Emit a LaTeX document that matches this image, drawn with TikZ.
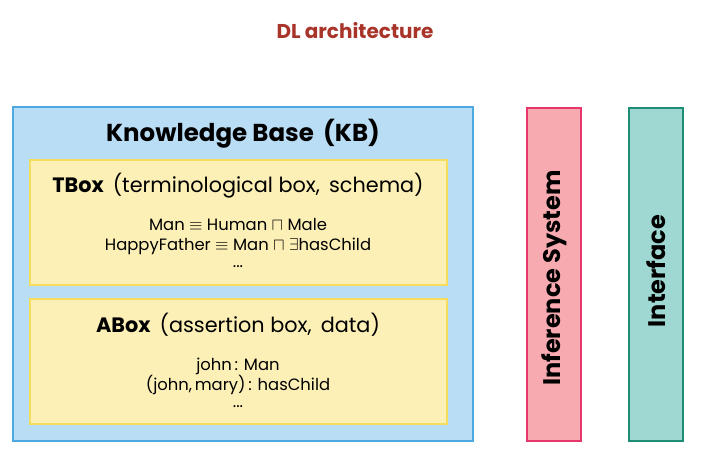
\documentclass[tikz,border=0pt]{standalone}
\usepackage{fontspec}
\setmainfont{Poppins}
\definecolor{titlered}{HTML}{A8342A}
\definecolor{kbfill}{HTML}{B9DDF5}
\definecolor{kbdraw}{HTML}{4DA9DF}
\definecolor{boxfill}{HTML}{FDF0B6}
\definecolor{boxdraw}{HTML}{F6DD5C}
\definecolor{inffill}{HTML}{F8AAB1}
\definecolor{infdraw}{HTML}{E5376C}
\definecolor{intfill}{HTML}{9FD8D3}
\definecolor{intdraw}{HTML}{1F8C74}
\tikzset{
  panel/.style={draw=#1, line width=1.6pt},
  txt/.style={inner sep=0pt, anchor=center},
}
\begin{document}
\begin{tikzpicture}[x=1pt,y=-1pt]
\useasboundingbox (0,0) rectangle (705,466);
\node[txt, text=titlered, font=\fontsize{20}{24}\selectfont\bfseries] (title) at (355,31) {DL architecture};
% KB
\path[panel=kbdraw, fill=kbfill] (13,107) rectangle (473,441);
\node[txt, font=\fontsize{24.5}{28}\selectfont\bfseries] (kb) at (243,134) {Knowledge Base\ \,(KB)};
% TBox
\path[panel=boxdraw, fill=boxfill] (30,160) rectangle (447,285);
\node[txt, font=\fontsize{20.8}{24}\selectfont] (tbox) at (238,186) {\textbf{TBox}\ \,(terminological box,\ \,schema)};
\node[txt, font=\fontsize{16.4}{20}\selectfont, align=center] (tax) at (238,243) {Man $\equiv$ Human $\sqcap$ Male\\HappyFather $\equiv$ Man $\sqcap$ $\exists$hasChild\\[-3pt]...};
% ABox
\path[panel=boxdraw, fill=boxfill] (30,299) rectangle (447,424);
\node[txt, font=\fontsize{20.8}{24}\selectfont] (abox) at (238,325) {\textbf{ABox}\ \,(assertion box,\ \,data)};
\node[txt, font=\fontsize{16.4}{20}\selectfont, align=center] (aax) at (238,383) {john\,: Man\\(john,\,mary)\,: hasChild\\[-3pt]...};
% Inference System
\node[panel=infdraw, fill=inffill, minimum width=54pt, minimum height=333pt, inner sep=0pt] (inf) at (554,274.5) {};
\node[txt, rotate=90, font=\fontsize{24}{28}\selectfont\bfseries] (inft) at (554,278) {Inference System};
% Interface
\node[panel=intdraw, fill=intfill, minimum width=54pt, minimum height=333pt, inner sep=0pt] (intf) at (656,274.5) {};
\node[txt, rotate=90, font=\fontsize{24}{28}\selectfont\bfseries] (intt) at (656,271) {Interface};
\end{tikzpicture}
\end{document}
